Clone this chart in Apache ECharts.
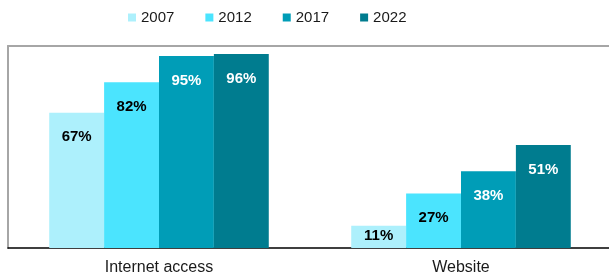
<!DOCTYPE html>
<html>
<head>
<meta charset="utf-8">
<script src="https://cdn.jsdelivr.net/npm/echarts@6/dist/echarts.min.js"></script>
<style>html,body{margin:0;padding:0;background:#fff;}#c{width:609px;height:273px;}</style>
</head>
<body>
<div id="c"></div>
<script>
var categories = ['Internet access', 'Website'];
var seriesNames = ['2007', '2012', '2017', '2022'];
var v2007 = [67, 11];
var v2012 = [82, 27];
var v2017 = [95, 38];
var v2022 = [96, 51];

var values = [v2007, v2012, v2017, v2022];
var colors = ['#ADF0FC', '#4BE4FE', '#009DB7', '#007C8F'];
var labelColors = ['#000000', '#000000', '#ffffff', '#ffffff'];
var FONT = 'Liberation Sans, Arial, sans-serif';

var chart = echarts.init(document.getElementById('c'), null, {renderer: 'canvas'});
var series = seriesNames.map(function (name, i) {
  return {
    name: name,
    type: 'bar',
    barGap: '0%',
    barCategoryGap: '27.3%',
    itemStyle: {color: colors[i]},
    label: {
      show: true,
      position: 'insideTop',
      distance: 17,
      formatter: '{c}%',
      color: labelColors[i],
      fontFamily: FONT,
      fontWeight: 'bold',
      fontSize: 15
    },
    data: values[i].map(function (v) {
      var item = {value: v};
      if (v < 15) item.label = {distance: 3};
      return item;
    })
  };
});

chart.setOption({
  animation: false,
  legend: {
    top: 5,
    left: 123,
    itemWidth: 8,
    itemHeight: 8,
    itemGap: 31,
    icon: 'rect',
    textStyle: {fontFamily: FONT, fontSize: 15, color: '#1a1a1a'},
    data: seriesNames
  },
  grid: {left: 8, top: 46, width: 604, height: 202, outerBoundsMode: 'none', containLabel: false},
  xAxis: [{
    type: 'category',
    data: categories,
    axisLine: {lineStyle: {color: '#000', width: 1.5}},
    axisTick: {length: 4, lineStyle: {color: '#333'}},
    axisLabel: {fontFamily: FONT, fontSize: 16, color: '#1a1a1a', margin: 12}
  }, {
    type: 'category',
    position: 'top',
    data: categories,
    axisLine: {lineStyle: {color: '#A6A6A6', width: 2}},
    axisTick: {show: false},
    axisLabel: {show: false}
  }],
  yAxis: {
    type: 'value', min: 0, max: 100,
    axisLine: {show: true, lineStyle: {color: '#A6A6A6', width: 2}},
    axisTick: {show: false},
    axisLabel: {show: false},
    splitLine: {show: false}
  },
  series: series
});
</script>
</body>
</html>
